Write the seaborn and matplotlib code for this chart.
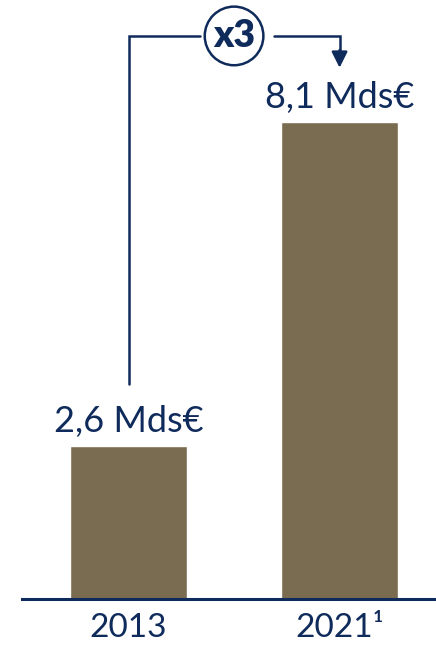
import matplotlib
matplotlib.use("Agg")
import matplotlib.pyplot as plt
import seaborn as sns
import pandas as pd

# Revenue in billions of euros
years = ["2013", "2021"]
tick_labels = ["2013", "2021¹"]
values = [2.6, 8.1]
value_labels = ["2,6 Mds€", "8,1 Mds€"]
multiplier_label = "x3"

NAVY = "#0f2b5b"
BRONZE = "#7a6c50"

sns.set_theme(style="white")
plt.rcParams["font.family"] = ["Lato", "DejaVu Sans"]

df = pd.DataFrame({"year": years, "value": values})

fig = plt.figure(figsize=(4.36, 6.46), dpi=100)
ax = fig.add_axes([22 / 436, 47 / 646, 414 / 436, 599 / 646])

sns.barplot(data=df, x="year", y="value", color=BRONZE, width=0.555,
            saturation=1, ax=ax, order=years)

ax.set_xlim(-0.505, 1.457)
ax.set_ylim(0, 10.17)

for s in ["top", "right", "left"]:
    ax.spines[s].set_visible(False)
ax.spines["bottom"].set_color(NAVY)
ax.spines["bottom"].set_linewidth(2.2)
ax.set_yticks([])
ax.set_xlabel("")
ax.set_ylabel("")
ax.set_xticks(range(len(years)))
ax.set_xticklabels(tick_labels, fontsize=24, color=NAVY)
ax.tick_params(axis="x", length=0, pad=10)

# Value labels above the bars
for i, (v, lab) in enumerate(zip(values, value_labels)):
    ax.annotate(lab, xy=(i, v), xytext=(0, 10), textcoords="offset points",
                ha="center", va="baseline", fontsize=26, color=NAVY)

# Growth bracket connecting the two bars
top = 9.56
start = values[0] + 1.05
ax.plot([0, 0, 0.34], [start, top, top], color=NAVY, lw=1.8,
        solid_joinstyle="miter", clip_on=False)
ax.plot([0.69, 1.0, 1.0], [top, top, 9.3], color=NAVY, lw=1.8,
        solid_joinstyle="miter", clip_on=False)
ax.annotate("", xy=(1.0, values[1] + 0.92), xytext=(1.0, 9.32),
            arrowprops=dict(arrowstyle="-|>,head_length=0.8,head_width=0.4",
                            color=NAVY, lw=1.8, shrinkA=0, shrinkB=0))
ax.text(0.50, top, multiplier_label, ha="center", va="center",
        fontsize=27, fontweight="heavy", color=NAVY,
        bbox=dict(boxstyle="circle,pad=0.22", fc="white", ec=NAVY, lw=1.8))

fig.savefig("out.png", dpi=100)
